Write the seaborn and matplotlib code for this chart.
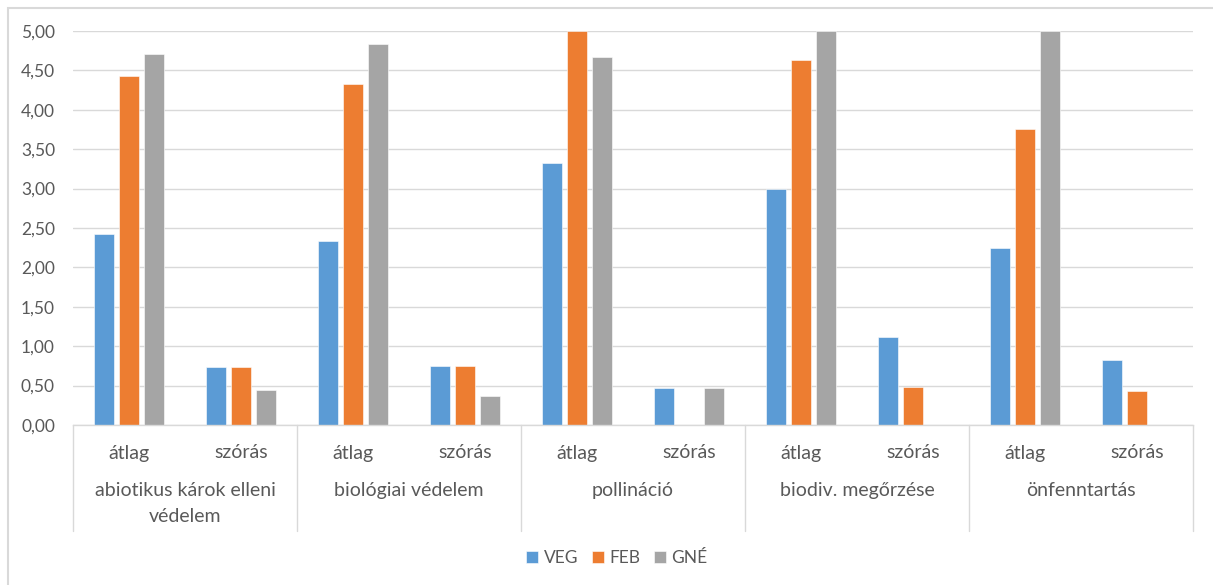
import numpy as np
import pandas as pd
import matplotlib
matplotlib.use("Agg")
import matplotlib.pyplot as plt
import matplotlib.transforms as mtransforms
from matplotlib.patches import Rectangle
import seaborn as sns

groups = ["abiotikus károk elleni\nvédelem", "biológiai védelem", "pollináció",
          "biodiv. megőrzése", "önfenntartás"]
stats = ["átlag", "szórás"]
series = ["VEG", "FEB", "GNÉ"]

veg = [2.43, 0.73, 2.33, 0.75, 3.33, 0.47, 3.00, 1.12, 2.25, 0.83]
feb = [4.43, 0.73, 4.33, 0.75, 5.00, 0.00, 4.63, 0.48, 3.75, 0.43]
gne = [4.71, 0.45, 4.83, 0.37, 4.67, 0.47, 5.00, 0.00, 5.00, 0.00]

colors = ["#5B9BD5", "#ED7D31", "#A5A5A5"]
txt = "#595959"
line = "#D9D9D9"

cats = [f"{g}|{s}" for g in groups for s in stats]
rows = []
for name, vals in zip(series, [veg, feb, gne]):
    for c, v in zip(cats, vals):
        rows.append({"cat": c, "series": name, "value": v})
df = pd.DataFrame(rows)

sns.set_style("white")
plt.rcParams["font.family"] = ["Lato", "DejaVu Sans"]

fig = plt.figure(figsize=(12.13, 5.85), dpi=100)
ax = fig.add_axes([73 / 1213, 1 - 425 / 585, 1120 / 1213, 394 / 585])

sns.barplot(data=df, x="cat", y="value", hue="series", order=cats,
            hue_order=series, palette=colors, saturation=1, width=0.67, gap=0.2,
            edgecolor="white", linewidth=0.4, ax=ax, legend=True)

ax.set_ylim(0, 5)
ax.set_xlim(-0.5, len(cats) - 0.5)
ax.set_yticks(np.arange(0, 5.01, 0.5))
ax.set_yticklabels([f"{t:.2f}".replace(".", ",") for t in np.arange(0, 5.01, 0.5)])
ax.yaxis.grid(True, color=line, linewidth=1)
ax.set_axisbelow(True)
for s in ["top", "right", "left"]:
    ax.spines[s].set_visible(False)
ax.spines["bottom"].set_color(line)
ax.spines["bottom"].set_linewidth(1)
ax.tick_params(axis="y", length=0, pad=13, labelsize=12.5, labelcolor=txt)
ax.set_xticks([])
ax.set_xlabel("")
ax.set_ylabel("")

# two-level category axis
trans = mtransforms.blended_transform_factory(ax.transData, ax.transAxes)
for i, c in enumerate(cats):
    ax.text(i, -28 / 394, c.split("|")[1], transform=trans, ha="center",
            va="center", fontsize=14, color=txt)
for j, g in enumerate(groups):
    ax.text(2 * j + 0.5, -57 / 394, g, transform=trans, ha="center",
            va="top", fontsize=14, color=txt, linespacing=1.65)
for k in range(len(groups) + 1):
    ax.plot([2 * k - 0.5, 2 * k - 0.5], [0, -106 / 394], transform=trans,
            color=line, linewidth=1, clip_on=False)

handles, labels = ax.get_legend_handles_labels()
ax.legend_.remove()
fig.legend(handles, labels, loc="center", bbox_to_anchor=(617 / 1213, 1 - 558 / 585),
           ncol=3, frameon=False, fontsize=12.5, handlelength=0.7,
           handleheight=0.7, handletextpad=0.3, columnspacing=0.8,
           labelcolor=txt)

# chart border
fig.patches.append(Rectangle((8 / 1213, -0.1), 1.1, 1.1 - 8 / 585,
                             transform=fig.transFigure, fill=False,
                             edgecolor=line, linewidth=1.5))

fig.savefig("out.png", dpi=100, facecolor="white")
